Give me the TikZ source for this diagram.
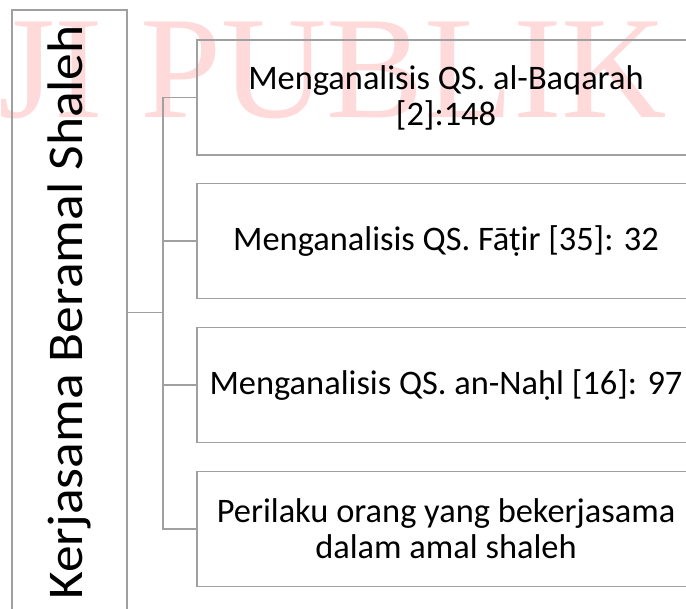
\documentclass[tikz,border=0pt]{standalone}
\usepackage{fontspec}
\setmainfont{Carlito}
\newfontfamily\wmfont{Liberation Serif}
\usepackage{xcolor}
\usepackage{tikz}

\definecolor{rimgray}{RGB}{160,160,160}
\definecolor{wmpink}{RGB}{255,218,218}

\tikzset{
  kotak/.style={draw=rimgray, line width=1.6pt, minimum width=498pt, minimum height=115pt,
    inner sep=0pt, align=center, font=\fontsize{34.4}{36}\selectfont},
  garis/.style={draw=rimgray, line width=1.6pt},
}

\begin{document}
\begin{tikzpicture}[x=1pt,y=-1pt]
%\draw[step=50,black!20] (0,0) grid (686,609);
\useasboundingbox (0,0) rectangle (686,609);

\node[anchor=base west, inner sep=0pt, text=wmpink, font=\wmfont\fontsize{146}{146}\selectfont] (wm) at (-2,118) {JI PUBLIK};

\node[draw=rimgray, line width=1.6pt, yscale=1.07, rotate=90, minimum width=565pt, minimum height=115pt,
  inner sep=0pt, font=\fontsize{50}{50}\selectfont] (judul) at (69.5,312.5) {Kerjasama Beramal Shaleh};

\node[kotak] (b1) at (446,97.5) {Menganalisis QS. al-Baqarah\\{}[2]:148};
\node[kotak] (b2) at (446,241) {Menganalisis QS. Fāṭir [35]: 32};
\node[kotak] (b3) at (446,385) {Menganalisis QS. an-Naḥl [16]: 97};
\node[kotak] (b4) at (446,529) {Perilaku orang yang bekerjasama\\dalam amal shaleh};

\draw[garis] (judul.south) -- ++(35,0) coordinate (hub);
\draw[garis] (b1.west) -- (b1.west -| hub) -- (b4.west -| hub) -- (b4.west);
\draw[garis] (b2.west) -- (b2.west -| hub);
\draw[garis] (b3.west) -- (b3.west -| hub);
\end{tikzpicture}
\end{document}
